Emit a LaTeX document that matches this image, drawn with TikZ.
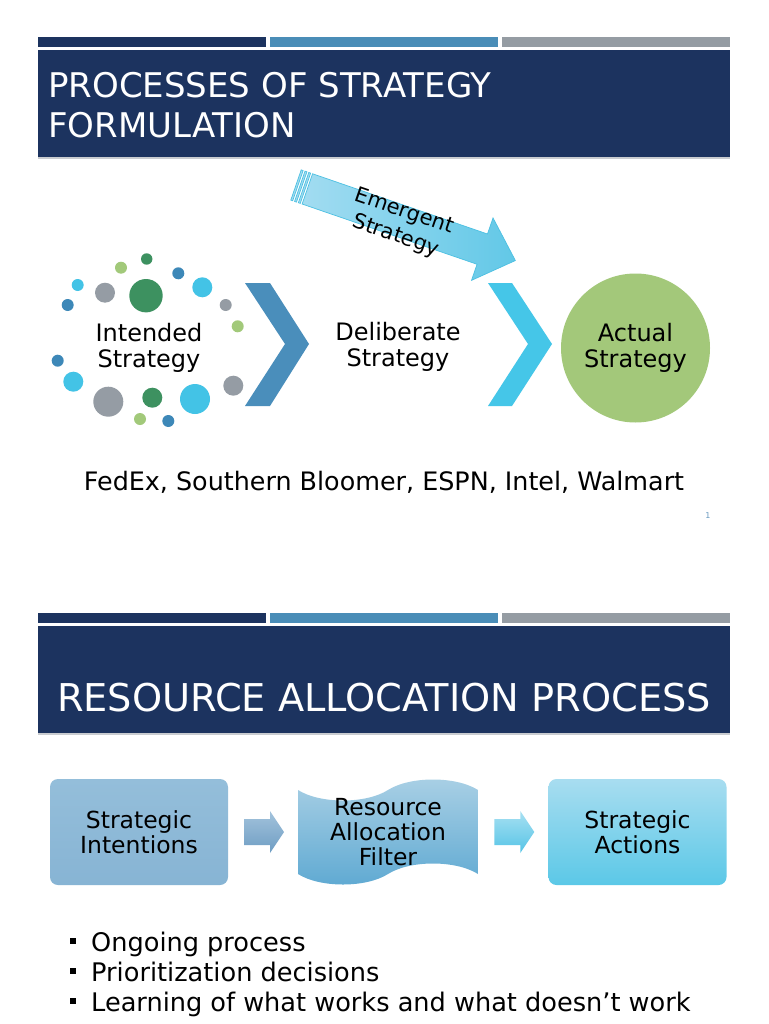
\documentclass[tikz,border=0pt]{standalone}
\usepackage{fontspec}
\setmainfont{DejaVu Sans}
\usepackage{tikz}
\usetikzlibrary{calc,positioning}
\definecolor{titleNavy}{HTML}{1C335F}
\definecolor{barBlue}{HTML}{4A8DB7}
\definecolor{barGray}{HTML}{959CA3}
\definecolor{shadowGray}{HTML}{C9CCD0}
\definecolor{dotGreen}{HTML}{3D9160}
\definecolor{dotLime}{HTML}{A2C97A}
\definecolor{dotBlue}{HTML}{3D88B8}
\definecolor{dotCyan}{HTML}{43C3E6}
\definecolor{dotGray}{HTML}{959CA4}
\definecolor{chevronBlue}{HTML}{4A8EBB}
\definecolor{chevronCyan}{HTML}{45C6E8}
\definecolor{circleGreen}{HTML}{A3C87A}
\definecolor{emergentLight}{HTML}{A2DCF1}
\definecolor{emergentDark}{HTML}{62C8E7}
\definecolor{emergentEdge}{HTML}{4CC0E2}
\definecolor{pageBlue}{HTML}{6A9BC0}
\definecolor{intentTop}{HTML}{94BEDA}
\definecolor{intentBot}{HTML}{87B4D4}
\definecolor{filterTop}{HTML}{AAD0E5}
\definecolor{filterBot}{HTML}{5EA9D2}
\definecolor{actionTop}{HTML}{A8DDF0}
\definecolor{actionBot}{HTML}{5BC8E7}
\definecolor{arrowSteelTop}{HTML}{A3C3DC}
\definecolor{arrowSteelBot}{HTML}{6E9DC3}
\definecolor{arrowCyanTop}{HTML}{A8E0F2}
\definecolor{arrowCyanBot}{HTML}{55C4E6}

\begin{document}
\begin{tikzpicture}[x=1pt,y=-1pt,
  every node/.style={inner sep=0pt},
  lbl/.style={align=center,font=\fontsize{24}{26}\selectfont},
  procbox/.style={rounded corners=8pt,minimum width=178pt,minimum height=106pt,
    align=center,font=\fontsize{23.5}{25}\selectfont},
  bulletsq/.style={fill=black,minimum size=6.5pt},
  bullettxt/.style={anchor=base west,font=\fontsize{25.6}{30}\selectfont}]
\useasboundingbox[fill=white] (0,0) rectangle (768,1024);

% first slide: header
\fill[titleNavy] (38,37) rectangle (266,47);
\fill[barBlue] (270,37) rectangle (498,47);
\fill[barGray] (502,37) rectangle (730,47);
\fill[shadowGray] (38,157) rectangle (730,159);
\fill[titleNavy] (38,50) rectangle (730,157);
\node[anchor=base west,text=white,font=\fontsize{34}{40}\selectfont] (titleA) at (48,98) {PROCESSES OF STRATEGY};
\node[anchor=base west,text=white,font=\fontsize{34}{40}\selectfont] (titleB) at (48,138) {FORMULATION};

% emergent strategy arrow
\begin{scope}[shift={(296,185)},rotate=-19]
\foreach \s in {0,4,8}
  \filldraw[fill=emergentLight,draw=emergentEdge,line width=0.7pt] (\s,-16) rectangle (\s+2,16);
\draw[left color=emergentLight,right color=emergentDark,draw=emergentEdge,line width=0.7pt]
  (12,-16) -- (197,-16) -- (197,-33) -- (232,0) -- (197,33) -- (197,16) -- (12,16) -- cycle;
\node[align=center,rotate=-19,font=\fontsize{21}{26}\selectfont] (emergent) at (111,3) {Emergent\\Strategy};
\end{scope}

% dots round the intended strategy
\foreach \x/\y/\r/\c in {146.7/259/5.7/dotGreen, 121/267.7/6/dotLime, 178.3/273.3/6/dotBlue,
  77.7/285/6/dotCyan, 105/292.7/10/dotGray, 146/295.7/16.7/dotGreen, 202.3/287.3/10/dotCyan,
  67.7/305/6/dotBlue, 225.7/305/6/dotGray, 237.7/326.3/6/dotLime, 57.7/360.7/6/dotBlue,
  73.3/381.7/10/dotCyan, 233.3/385.7/10/dotGray, 108.3/401.7/15/dotGray, 152.3/397.7/10/dotGreen,
  195/399/15/dotCyan, 140/419/6/dotLime, 168.3/421/6/dotBlue}
  \fill[\c] (\x,\y) circle (\r);
\node[lbl] (intended) at (149,348) {Intended\\Strategy};

% chevrons
\fill[chevronBlue] (245,283) -- (270,283) -- (309,344) -- (270,406) -- (245,406) -- (285,344) -- cycle;
\node[lbl] (deliberate) at (398,347) {Deliberate\\Strategy};
\fill[chevronCyan] (488,283) -- (512,283) -- (552,344) -- (512,406) -- (488,406) -- (528,344) -- cycle;
\node[lbl,circle,fill=circleGreen,minimum size=149pt] (actual) at (635.5,348) {Actual\\Strategy};

\node[anchor=base,font=\fontsize{25.4}{30}\selectfont] (firms) at (384,490) {FedEx, Southern Bloomer, ESPN, Intel, Walmart};
\node[text=pageBlue,font=\fontsize{8}{9}\selectfont] (pageno) at (708,516) {1};

% second slide: header
\fill[titleNavy] (38,613) rectangle (266,623);
\fill[barBlue] (270,613) rectangle (498,623);
\fill[barGray] (502,613) rectangle (730,623);
\fill[shadowGray] (38,733) rectangle (730,735);
\fill[titleNavy] (38,626) rectangle (730,733);
\node[anchor=base,text=white,font=\fontsize{38.3}{40}\selectfont] (titleC) at (384,711) {RESOURCE ALLOCATION PROCESS};

% process boxes
\node[procbox,top color=intentTop,bottom color=intentBot] (intent) at (139,832) {Strategic\\Intentions};
\shade[top color=filterTop,bottom color=filterBot]
  (298,790) .. controls (320,804) and (366,804) .. (388,790) .. controls (410,776) and (456,776) .. (478,790)
  -- (478,874) .. controls (456,860) and (410,860) .. (388,874) .. controls (366,888) and (320,888) .. (298,874) -- cycle;
\node[align=center,minimum width=180pt,minimum height=108pt,font=\fontsize{23.5}{25}\selectfont] (filter) at (388,832) {Resource\\Allocation\\Filter};
\node[procbox,top color=actionTop,bottom color=actionBot] (actions) at (637.5,832) {Strategic\\Actions};

% block arrows between the boxes
\coordinate (arrA) at ($(intent.east)!0.5!(filter.west)$);
\coordinate (arrB) at ($(filter.east)!0.5!(actions.west)$);
\begin{scope}[shift={(arrA)}]
\shade[top color=arrowSteelTop,bottom color=arrowSteelBot]
  (-19,-13) -- (7,-13) -- (7,-21) -- (21,0) -- (7,21) -- (7,13) -- (-19,13) -- cycle;
\end{scope}
\begin{scope}[shift={(arrB)}]
\shade[top color=arrowCyanTop,bottom color=arrowCyanBot]
  (-19,-13) -- (7,-13) -- (7,-21) -- (21,0) -- (7,21) -- (7,13) -- (-19,13) -- cycle;
\end{scope}

% bullets
\foreach \txt [count=\i] in {Ongoing process, Prioritization decisions, Learning of what works and what doesn't work}{
  \node[bulletsq] (dot\i) at (73,{911+30*\i}) {};
  \node[bullettxt] (item\i) at (91,{921+30*\i}) {\txt};
}
\end{tikzpicture}
\end{document}
